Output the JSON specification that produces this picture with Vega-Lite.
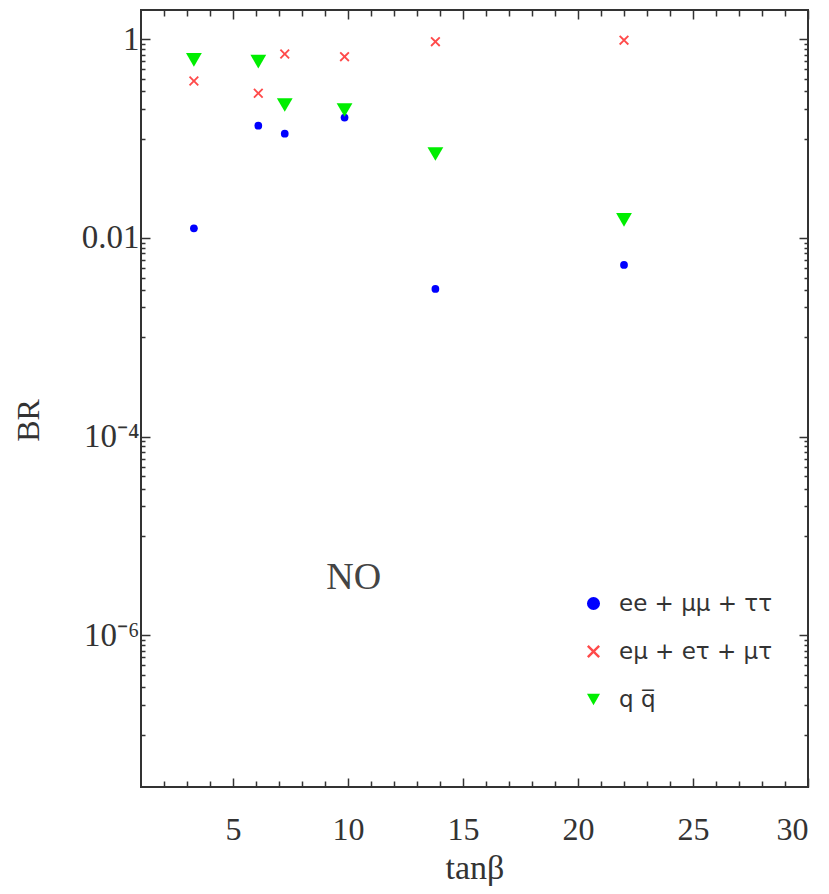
{
  "$schema": "https://vega.github.io/schema/vega-lite/v6.json",
  "width": 667,
  "height": 777,
  "autosize": {"type": "none"},
  "padding": {"left": 141, "top": 10, "right": 21, "bottom": 107},
  "background": "white",
  "config": {
    "view": {"stroke": "#333", "strokeWidth": 2},
    "axis": {"grid": false, "domain": false, "tickColor": "#333", "tickWidth": 1.5, "labelFont": "Liberation Serif", "labelColor": "#333", "titleFont": "Liberation Serif", "titleFontWeight": "normal", "titleColor": "#333"}
  },
  "datasets": {
    "br": [
      {"tanb": 3.3, "BR": 0.0125, "series": "ee + μμ + ττ"},
      {"tanb": 6.1, "BR": 0.135, "series": "ee + μμ + ττ"},
      {"tanb": 7.25, "BR": 0.112, "series": "ee + μμ + ττ"},
      {"tanb": 9.85, "BR": 0.163, "series": "ee + μμ + ττ"},
      {"tanb": 13.8, "BR": 0.00307, "series": "ee + μμ + ττ"},
      {"tanb": 22, "BR": 0.00535, "series": "ee + μμ + ττ"},
      {"tanb": 3.3, "BR": 0.38, "series": "eμ + eτ + μτ"},
      {"tanb": 6.1, "BR": 0.286, "series": "eμ + eτ + μτ"},
      {"tanb": 7.25, "BR": 0.711, "series": "eμ + eτ + μτ"},
      {"tanb": 9.85, "BR": 0.668, "series": "eμ + eτ + μτ"},
      {"tanb": 13.8, "BR": 0.946, "series": "eμ + eτ + μτ"},
      {"tanb": 22, "BR": 0.98, "series": "eμ + eτ + μτ"},
      {"tanb": 3.3, "BR": 0.62, "series": "q q̅"},
      {"tanb": 6.1, "BR": 0.595, "series": "q q̅"},
      {"tanb": 7.25, "BR": 0.218, "series": "q q̅"},
      {"tanb": 9.85, "BR": 0.194, "series": "q q̅"},
      {"tanb": 13.8, "BR": 0.07, "series": "q q̅"},
      {"tanb": 22, "BR": 0.0152, "series": "q q̅"}
    ],
    "note": [{"tanb": 10.25, "BR": 3.8e-6, "label": "NO"}]
  },
  "resolve": {"axis": {"x": "independent", "y": "independent"}},
  "layer": [
    {
      "data": {"name": "br"},
      "transform": [{"filter": "datum.series === 'ee + μμ + ττ'"}],
      "mark": {"type": "point", "filled": true, "opacity": 1, "size": 60},
      "encoding": {
        "x": {"field": "tanb", "type": "quantitative", "scale": {"domain": [1, 30], "nice": false, "zero": false},
          "axis": {"orient": "bottom", "values": [5, 10, 15, 20, 25, 30], "tickSize": -9, "labelFontSize": 32, "labelPadding": 51, "labelBaseline": "middle", "title": "tanβ", "titleFontSize": 34, "titleX": 333.5, "titleY": 81, "titleBaseline": "middle", "titleAlign": "center"}},
        "y": {"field": "BR", "type": "quantitative", "scale": {"type": "log", "domain": [2.98e-8, 1.97], "nice": false},
          "axis": {"orient": "left", "values": [1, 0.01, 0.0001, 0.000001], "tickSize": -9, "labelFontSize": 33, "labelPadding": 11,
            "labelExpr": "datum.value > 0.5 ? '1' : datum.value > 0.005 ? '0.01' : datum.value > 0.00005 ? '10⁻⁴' : '10⁻⁶'",
            "title": "BR", "titleFontSize": 32, "titleAngle": -90, "titleX": -113, "titleY": 410, "titleAlign": "center", "titleBaseline": "middle"}},
        "color": {"field": "series", "type": "nominal", "sort": null,
          "scale": {"domain": ["ee + μμ + ττ", "eμ + eτ + μτ", "q q̅"], "range": ["#0000ff", "#ff4a4a", "#00ee00"]},
          "legend": {"title": null, "orient": "none", "legendX": 441, "legendY": 582, "symbolSize": 170, "labelFont": "DejaVu Sans", "labelFontSize": 23, "labelColor": "#333", "labelOffset": 14, "rowPadding": 24, "symbolStrokeWidth": 0}},
        "shape": {"field": "series", "type": "nominal", "sort": null,
          "scale": {"domain": ["ee + μμ + ττ", "eμ + eτ + μτ", "q q̅"], "range": ["circle", "M0,-0.26L0.74,-1L1,-0.74L0.26,0L1,0.74L0.74,1L0,0.26L-0.74,1L-1,0.74L-0.26,0L-1,-0.74L-0.74,-1Z", "triangle-down"]}}
      }
    },
    {
      "data": {"name": "br"},
      "transform": [{"filter": "datum.series === 'eμ + eτ + μτ'"}],
      "mark": {"type": "point", "filled": true, "opacity": 1, "size": 100},
      "encoding": {
        "x": {"field": "tanb", "type": "quantitative", "scale": {"domain": [1, 30], "nice": false, "zero": false},
          "axis": {"orient": "bottom", "values": [2, 3, 4, 6, 7, 8, 9, 11, 12, 13, 14, 16, 17, 18, 19, 21, 22, 23, 24, 26, 27, 28, 29], "tickSize": -6, "labels": false, "title": null}},
        "y": {"field": "BR", "type": "quantitative", "scale": {"type": "log", "domain": [2.98e-8, 1.97], "nice": false},
          "axis": {"orient": "left", "values": [0.9, 0.8, 0.7, 0.6, 0.5, 0.4, 0.3, 0.2, 0.1, 0.009, 0.008, 0.007, 0.006, 0.005, 0.004, 0.003, 0.002, 0.001, 0.00009, 0.00008, 0.00007, 0.00006, 0.00005, 0.00004, 0.00003, 0.00002, 0.00001, 9e-7, 8e-7, 7e-7, 6e-7, 5e-7, 4e-7, 3e-7, 2e-7, 1e-7], "tickSize": -4, "labels": false, "title": null}},
        "color": {"field": "series", "type": "nominal", "sort": null,
          "scale": {"domain": ["ee + μμ + ττ", "eμ + eτ + μτ", "q q̅"], "range": ["#0000ff", "#ff4a4a", "#00ee00"]}},
        "shape": {"field": "series", "type": "nominal", "sort": null,
          "scale": {"domain": ["ee + μμ + ττ", "eμ + eτ + μτ", "q q̅"], "range": ["circle", "M0,-0.26L0.74,-1L1,-0.74L0.26,0L1,0.74L0.74,1L0,0.26L-0.74,1L-1,0.74L-0.26,0L-1,-0.74L-0.74,-1Z", "triangle-down"]}}
      }
    },
    {
      "data": {"name": "br"},
      "transform": [{"filter": "datum.series === 'q q̅'"}],
      "mark": {"type": "point", "filled": true, "opacity": 1, "size": 250},
      "encoding": {
        "x": {"field": "tanb", "type": "quantitative", "scale": {"domain": [1, 30], "nice": false, "zero": false},
          "axis": {"orient": "top", "values": [5, 10, 15, 20, 25, 30], "tickSize": -9, "labels": false, "title": null}},
        "y": {"field": "BR", "type": "quantitative", "scale": {"type": "log", "domain": [2.98e-8, 1.97], "nice": false},
          "axis": {"orient": "right", "values": [1, 0.01, 0.0001, 0.000001], "tickSize": -9, "labels": false, "title": null}},
        "color": {"field": "series", "type": "nominal", "sort": null,
          "scale": {"domain": ["ee + μμ + ττ", "eμ + eτ + μτ", "q q̅"], "range": ["#0000ff", "#ff4a4a", "#00ee00"]}},
        "shape": {"field": "series", "type": "nominal", "sort": null,
          "scale": {"domain": ["ee + μμ + ττ", "eμ + eτ + μτ", "q q̅"], "range": ["circle", "M0,-0.26L0.74,-1L1,-0.74L0.26,0L1,0.74L0.74,1L0,0.26L-0.74,1L-1,0.74L-0.26,0L-1,-0.74L-0.74,-1Z", "triangle-down"]}}
      }
    },
    {
      "data": {"name": "note"},
      "mark": {"type": "text", "font": "Liberation Serif", "fontSize": 38, "color": "#444", "align": "center", "baseline": "middle"},
      "encoding": {
        "x": {"field": "tanb", "type": "quantitative", "scale": {"domain": [1, 30], "nice": false, "zero": false},
          "axis": {"orient": "top", "values": [2, 3, 4, 6, 7, 8, 9, 11, 12, 13, 14, 16, 17, 18, 19, 21, 22, 23, 24, 26, 27, 28, 29], "tickSize": -6, "labels": false, "title": null}},
        "y": {"field": "BR", "type": "quantitative", "scale": {"type": "log", "domain": [2.98e-8, 1.97], "nice": false},
          "axis": {"orient": "right", "values": [0.9, 0.8, 0.7, 0.6, 0.5, 0.4, 0.3, 0.2, 0.1, 0.009, 0.008, 0.007, 0.006, 0.005, 0.004, 0.003, 0.002, 0.001, 0.00009, 0.00008, 0.00007, 0.00006, 0.00005, 0.00004, 0.00003, 0.00002, 0.00001, 9e-7, 8e-7, 7e-7, 6e-7, 5e-7, 4e-7, 3e-7, 2e-7, 1e-7], "tickSize": -4, "labels": false, "title": null}},
        "text": {"field": "label"}
      }
    }
  ]
}
